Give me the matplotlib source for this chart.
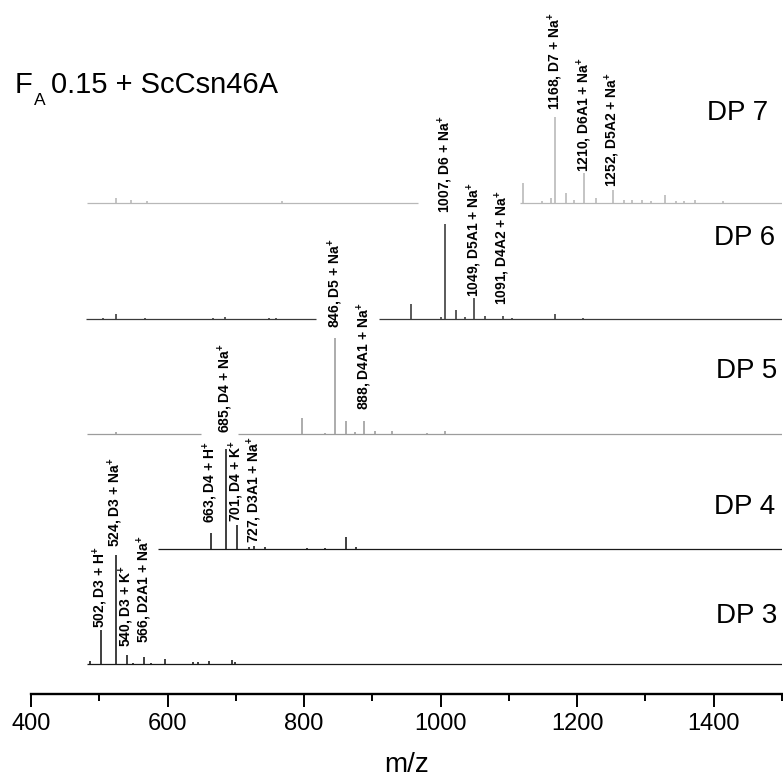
import numpy as np
import matplotlib
matplotlib.use("Agg")
import matplotlib.pyplot as plt
from matplotlib.ticker import MultipleLocator, FixedLocator

plt.rcParams['font.family'] = ['Liberation Sans', 'DejaVu Sans']
plt.rcParams['mathtext.fontset'] = 'custom'
plt.rcParams['mathtext.rm'] = 'Liberation Sans'
plt.rcParams['mathtext.it'] = 'Liberation Sans:italic'
plt.rcParams['mathtext.bf'] = 'Liberation Sans:bold'

# ---------------- data ----------------
title_main = "F"
title_sub = "A"
title_rest = "0.15 + ScCsn46A"
series_names = ["DP 7", "DP 6", "DP 5", "DP 4", "DP 3"]

dp7_mz = [524, 546, 570, 768, 1120, 1149, 1161, 1168, 1184, 1196, 1210, 1227, 1252,
          1269, 1281, 1295, 1308, 1329, 1345, 1357, 1372, 1413]
dp7_int = [5, 3, 2, 2, 20, 2, 5, 86, 10, 3, 30, 5, 13, 3, 3, 3, 2, 8, 2, 2, 3, 2]
dp7_ranges = [(482, 967), (1116, 1500)]

dp6_mz = [506, 524, 567, 666, 684, 749, 759, 957, 1001, 1007, 1023, 1036, 1049, 1065,
          1091, 1105, 1168, 1208]
dp6_int = [1, 5, 1, 1, 2, 1, 1, 15, 2, 95, 9, 2, 21, 3, 3, 1, 5, 1]
dp6_ranges = [(481, 817), (909, 1500)]

dp5_mz = [525, 797, 830, 846, 862, 874, 888, 904, 929, 980, 1007]
dp5_int = [2, 16, 1, 96, 13, 2, 13, 3, 3, 1, 3]
dp5_ranges = [(482, 649), (703, 1500)]

dp4_mz = [663, 685, 701, 719, 727, 743, 804, 831, 861, 876]
dp4_int = [16, 100, 24, 2, 3, 2, 1, 1, 12, 2]
dp4_ranges = [(586, 1500)]

dp3_mz = [486, 502, 524, 540, 550, 566, 576, 597, 638, 644, 660, 694, 699]
dp3_int = [3, 34, 109, 9, 1, 7, 1, 5, 2, 2, 3, 4, 2]
dp3_ranges = [(482, 1500)]

ann_dp = [3, 3, 3, 3, 4, 4, 4, 4, 5, 5, 6, 6, 6, 7, 7, 7]
ann_mz = [502, 524, 540, 566, 663, 685, 701, 727, 846, 888, 1007, 1049, 1091, 1168, 1210, 1252]
SUP = r"$^{\mathbf{+}}$"
ann_text = ["502, D3 + H" + SUP, "524, D3 + Na" + SUP, "540, D3 + K" + SUP, "566, D2A1 + Na" + SUP,
            "663, D4 + H" + SUP, "685, D4 + Na" + SUP, "701, D4 + K" + SUP, "727, D3A1 + Na" + SUP,
            "846, D5 + Na" + SUP, "888, D4A1 + Na" + SUP,
            "1007, D6 + Na" + SUP, "1049, D5A1 + Na" + SUP, "1091, D4A2 + Na" + SUP,
            "1168, D7 + Na" + SUP, "1210, D6A1 + Na" + SUP, "1252, D5A2 + Na" + SUP]

x_ticks = [400, 600, 800, 1000, 1200, 1400]
x_label = "m/z"

# ---------------- layout / style ----------------
W, H = 783, 784
fig = plt.figure(figsize=(W / 100, H / 100), dpi=100)
axis_y_px = 694
ax = fig.add_axes([31 / W, (H - axis_y_px) / H, (782 - 31) / W, axis_y_px / H])
ax.set_xlim(400, 1500)
ax.set_ylim(0, axis_y_px)

spectra = {
    7: (dp7_mz, dp7_int, dp7_ranges),
    6: (dp6_mz, dp6_int, dp6_ranges),
    5: (dp5_mz, dp5_int, dp5_ranges),
    4: (dp4_mz, dp4_int, dp4_ranges),
    3: (dp3_mz, dp3_int, dp3_ranges),
}
base_px = {7: 203, 6: 319, 5: 434, 4: 549, 3: 664}
colors = {7: '#b8b8b8', 6: '#3a3a3a', 5: '#9c9c9c', 4: '#1a1a1a', 3: '#1a1a1a'}
lw = 0.9

for dp, (mz, inten, ranges) in spectra.items():
    b = axis_y_px - base_px[dp]
    for (x0, x1) in ranges:
        ax.hlines(b, x0, x1, color=colors[dp], lw=lw)
    mz = np.asarray(mz, float)
    inten = np.asarray(inten, float)
    ax.vlines(mz, b, b + inten, color=colors[dp], lw=lw * 1.3)

# label lifts above baseline (px)
lift = {502: 36, 524: 117, 540: 17, 566: 21, 663: 26, 685: 116, 701: 27, 727: 6,
        846: 106, 888: 24, 1007: 106, 1049: 22, 1091: 14, 1168: 93, 1210: 31, 1252: 16}
for dp, m, t in zip(ann_dp, ann_mz, ann_text):
    b = axis_y_px - base_px[dp]
    ax.text(m, b + lift[m], t, rotation=90, ha='center', va='bottom',
            fontsize=10, fontweight='bold', color='black', zorder=5)

# DP labels
dp_label_pos = {7: (768, 120), 6: (775, 245), 5: (777, 378), 4: (775, 514), 3: (777, 623)}
for name, dp in zip(series_names, [7, 6, 5, 4, 3]):
    xp, yp = dp_label_pos[dp]
    fig.text(xp / W, (H - yp) / H, name, ha='right', va='baseline', fontsize=20)

# title with low subscript
fig.text(15 / W, (H - 93) / H, title_main, ha='left', va='baseline', fontsize=21)
fig.text(34 / W, (H - 105) / H, title_sub, ha='left', va='baseline', fontsize=12.5)
fig.text(51 / W, (H - 93) / H, title_rest, ha='left', va='baseline', fontsize=21)

# axes styling
for s in ['left', 'right', 'top']:
    ax.spines[s].set_visible(False)
ax.spines['bottom'].set_linewidth(1.7)
ax.set_yticks([])
ax.xaxis.set_major_locator(FixedLocator(x_ticks))
ax.xaxis.set_minor_locator(MultipleLocator(100))
ax.tick_params(axis='x', which='major', direction='out', length=9, width=1.4,
               labelsize=17, pad=5)
ax.tick_params(axis='x', which='minor', direction='out', length=5, width=1.4)
ax.set_xlabel(x_label, fontsize=20, labelpad=12)
ax.patch.set_alpha(0)

fig.savefig("out.png", dpi=100)
